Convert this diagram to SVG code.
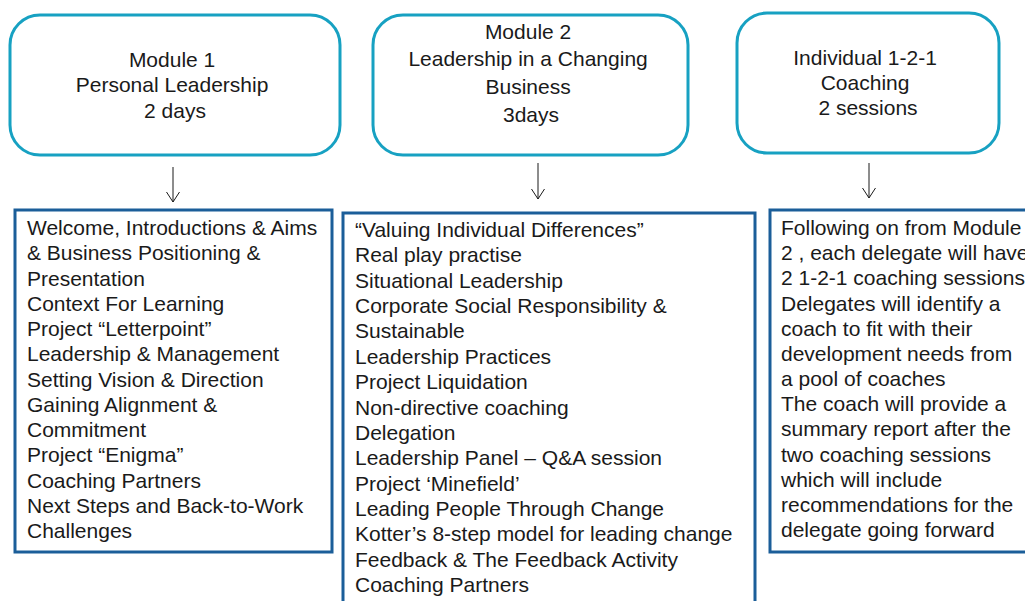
<svg xmlns="http://www.w3.org/2000/svg" width="1025" height="601" viewBox="0 0 1025 601">
  <defs>
    <style>
      .head { fill: #ffffff; stroke: #17A1C2; stroke-width: 3; }
      .list { fill: #ffffff; stroke: #1B5E99; stroke-width: 3; }
      .t { font-family: "Liberation Sans", Arial, sans-serif; font-size: 21px; fill: #1a1a1a; }
      .c { text-anchor: middle; }
      .arrow { stroke: #1a1a1a; stroke-width: 1; fill: none; }
    </style>
    <marker id="open" viewBox="0 0 12 14" refX="11" refY="7" markerWidth="12" markerHeight="14" markerUnits="userSpaceOnUse" orient="auto">
      <path d="M1,0.5 L11,7 L1,13.5" fill="none" stroke="#1a1a1a" stroke-width="1"/>
    </marker>
  </defs>
  <rect width="1025" height="601" fill="#ffffff"/>

  <g id="module1">
    <rect class="head" x="10" y="15" width="330" height="140" rx="30"/>
    <text class="t c">
      <tspan x="175" y="67">Module 1</tspan>
      <tspan x="175" y="92">Personal Leadership</tspan>
      <tspan x="175" y="118">2 days</tspan>
    </text>
  </g>

  <g id="module2">
    <rect class="head" x="373" y="15" width="315" height="140" rx="30"/>
    <text class="t c">
      <tspan x="531" y="39">Module 2</tspan>
      <tspan x="531" y="66">Leadership in a Changing</tspan>
      <tspan x="531" y="94">Business</tspan>
      <tspan x="531" y="122">3days</tspan>
    </text>
  </g>

  <g id="coaching">
    <rect class="head" x="737" y="13" width="262" height="140" rx="30"/>
    <text class="t c">
      <tspan x="868" y="65">Individual 1-2-1</tspan>
      <tspan x="868" y="90">Coaching</tspan>
      <tspan x="868" y="115">2 sessions</tspan>
    </text>
  </g>

  <g id="connectors">
    <line class="arrow" x1="173" y1="167" x2="173" y2="202" marker-end="url(#open)"/>
    <line class="arrow" x1="538" y1="163" x2="538" y2="199" marker-end="url(#open)"/>
    <line class="arrow" x1="869" y1="163" x2="869" y2="198" marker-end="url(#open)"/>
  </g>

  <g id="module1-content">
    <rect class="list" x="15" y="210" width="317" height="342"/>
    <text class="t">
      <tspan x="27" y="235">Welcome, Introductions &amp; Aims</tspan>
      <tspan x="27" y="260.3">&amp; Business Positioning &amp;</tspan>
      <tspan x="27" y="285.5">Presentation</tspan>
      <tspan x="27" y="310.8">Context For Learning</tspan>
      <tspan x="27" y="336">Project “Letterpoint”</tspan>
      <tspan x="27" y="361.3">Leadership &amp; Management</tspan>
      <tspan x="27" y="386.5">Setting Vision &amp; Direction</tspan>
      <tspan x="27" y="411.8">Gaining Alignment &amp;</tspan>
      <tspan x="27" y="437">Commitment</tspan>
      <tspan x="27" y="462.3">Project “Enigma”</tspan>
      <tspan x="27" y="487.5">Coaching Partners</tspan>
      <tspan x="27" y="512.8">Next Steps and Back-to-Work</tspan>
      <tspan x="27" y="538">Challenges</tspan>
    </text>
  </g>

  <g id="module2-content">
    <rect class="list" x="343" y="213" width="412" height="400"/>
    <text class="t">
      <tspan x="355" y="237">“Valuing Individual Differences”</tspan>
      <tspan x="355" y="262.4">Real play practise</tspan>
      <tspan x="355" y="287.7">Situational Leadership</tspan>
      <tspan x="355" y="313.1">Corporate Social Responsibility &amp;</tspan>
      <tspan x="355" y="338.4">Sustainable</tspan>
      <tspan x="355" y="363.8">Leadership Practices</tspan>
      <tspan x="355" y="389.1">Project Liquidation</tspan>
      <tspan x="355" y="414.5">Non-directive coaching</tspan>
      <tspan x="355" y="439.9">Delegation</tspan>
      <tspan x="355" y="465.2">Leadership Panel – Q&amp;A session</tspan>
      <tspan x="355" y="490.6">Project ‘Minefield’</tspan>
      <tspan x="355" y="515.9">Leading People Through Change</tspan>
      <tspan x="355" y="541.3">Kotter’s 8-step model for leading change</tspan>
      <tspan x="355" y="566.6">Feedback &amp; The Feedback Activity</tspan>
      <tspan x="355" y="592">Coaching Partners</tspan>
    </text>
  </g>

  <g id="coaching-content">
    <rect class="list" x="770" y="210" width="270" height="342"/>
    <text class="t">
      <tspan x="781" y="235">Following on from Module</tspan>
      <tspan x="781" y="260.2">2 , each delegate will have</tspan>
      <tspan x="781" y="285.3">2 1-2-1 coaching sessions</tspan>
      <tspan x="781" y="310.5">Delegates will identify a</tspan>
      <tspan x="781" y="335.7">coach to fit with their</tspan>
      <tspan x="781" y="360.8">development needs from</tspan>
      <tspan x="781" y="386">a pool of coaches</tspan>
      <tspan x="781" y="411.2">The coach will provide a</tspan>
      <tspan x="781" y="436.3">summary report after the</tspan>
      <tspan x="781" y="461.5">two coaching sessions</tspan>
      <tspan x="781" y="486.7">which will include</tspan>
      <tspan x="781" y="511.8">recommendations for the</tspan>
      <tspan x="781" y="537">delegate going forward</tspan>
    </text>
  </g>
</svg>
